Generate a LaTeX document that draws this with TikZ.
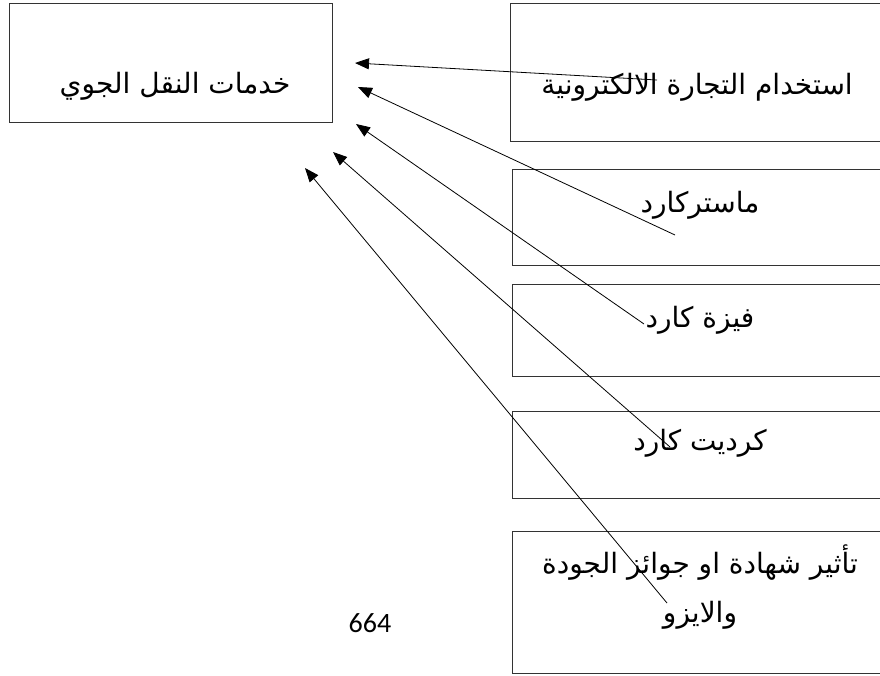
\documentclass[tikz,border=0pt]{standalone}
\usepackage{fontspec}
\usetikzlibrary{arrows.meta}
\TeXXeTstate=1
\newfontfamily\arabicfont[Script=Arabic]{DejaVu Sans}
\newfontfamily\numfont{Carlito}
\begin{document}
\begin{tikzpicture}[x=1pt,y=-1pt,
  box/.style={draw=black!80, line width=1pt},
  lbl/.style={font=\arabicfont\fontsize{28}{34}\selectfont, inner sep=0pt, anchor=center},
  conn/.style={line width=0.8pt, -{Triangle[length=14pt,width=11pt]}}]
\clip (0,0) rectangle (880,675);
\fill[white] (0,0) rectangle (880,675);
% boxes
\draw[box] (9,3) rectangle (332,122);
\draw[box] (510,3) rectangle (900,141);
\draw[box] (512,169) rectangle (900,265);
\draw[box] (512,284) rectangle (900,376);
\draw[box] (512,411) rectangle (900,498);
\draw[box] (512,531) rectangle (900,673);
% labels
\node[lbl] (t0) at (175,86) {\beginR خدمات النقل الجوي\endR};
\node[lbl] (t1) at (697,87) {\beginR استخدام التجارة الالكترونية\endR};
\node[lbl] (t2) at (700,205) {\beginR ماستركارد\endR};
\node[lbl] (t3) at (700,320) {\beginR فيزة كارد\endR};
\node[lbl] (t4) at (700,443) {\beginR كرديت كارد\endR};
\node[lbl] (t5a) at (700,563) {\beginR تأثير شهادة او جوائز الجودة\endR};
\node[lbl] (t5b) at (700,615) {\beginR والايزو\endR};
\node[font=\numfont\fontsize{28}{32}\selectfont, inner sep=0pt] (pg) at (370,623) {664};
% connector ends
\coordinate (s1) at (657,80);
\coordinate (s2) at (675,235);
\coordinate (s3) at (644,324);
\coordinate (s4) at (670,447);
\coordinate (s5) at (667,603);
\coordinate (h1) at (355,63);
\coordinate (h2) at (358,87);
\coordinate (h3) at (356,124);
\coordinate (h4) at (333,152);
\coordinate (h5) at (305,168);
\draw[conn] (s1) -- (h1);
\draw[conn] (s2) -- (h2);
\draw[conn] (s3) -- (h3);
\draw[conn] (s4) -- (h4);
\draw[conn] (s5) -- (h5);
\end{tikzpicture}
\end{document}
